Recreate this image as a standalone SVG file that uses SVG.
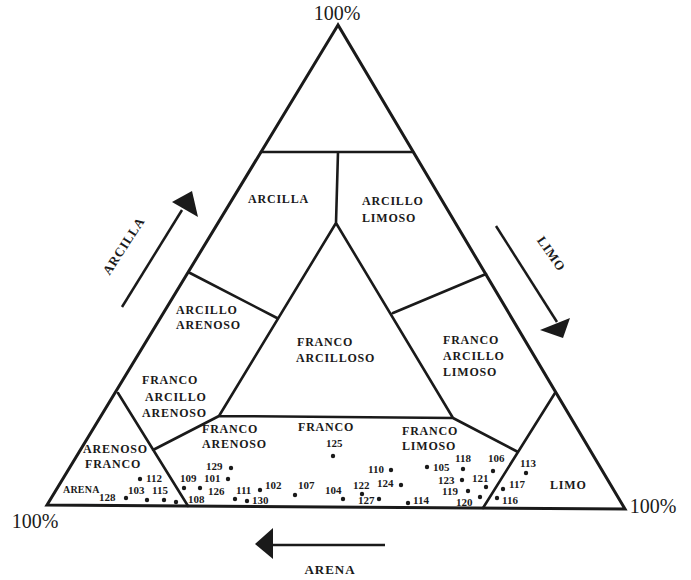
<svg xmlns="http://www.w3.org/2000/svg" width="691" height="580" viewBox="0 0 691 580">
<style>
.edge{fill:none;stroke:#1a1a1a;stroke-width:3;stroke-linejoin:miter}
.bd{fill:none;stroke:#1a1a1a;stroke-width:2.6;stroke-linecap:round}
.lbl{font-family:"Liberation Serif",serif;font-weight:bold;font-size:12px;letter-spacing:0.8px;fill:#1a1a1a}
.num{font-family:"Liberation Serif",serif;font-weight:bold;font-size:11px;fill:#1a1a1a}
.pct{font-family:"Liberation Serif",serif;font-size:20px;fill:#1a1a1a}
.dot{fill:#1a1a1a}
.arr{stroke:#1a1a1a;stroke-width:2.5;fill:none}
.head{fill:#1a1a1a}
</style>
<rect width="691" height="580" fill="#ffffff"/>
<g id="frame">
<polygon class="edge" points="338,25 47,505 625,509"/>
<path class="bd" d="M261,152 L413,152 M338,152 L336,223 M336,223 L219,416 M336,223 L453,418 M190,273 L277,318 M393,313 L486,274 M219,416 L453,418 M453,418 L518,452 M555,393 L483,508 M118,393 L188,506 M153,450 L219,416"/>
</g>
<g id="corner-labels">
<text class="pct" x="337" y="20" text-anchor="middle">100%</text>
<text class="pct" x="35" y="528" text-anchor="middle">100%</text>
<text class="pct" x="653" y="513" text-anchor="middle">100%</text>
</g>
<g id="arcilla"><text class="lbl" x="248" y="203">ARCILLA</text></g>
<g id="arcillo-limoso"><text class="lbl" x="362" y="205">ARCILLO</text><text class="lbl" x="362" y="222">LIMOSO</text></g>
<g id="arcillo-arenoso"><text class="lbl" x="176" y="314">ARCILLO</text><text class="lbl" x="176" y="329">ARENOSO</text></g>
<g id="franco-arcilloso"><text class="lbl" x="297" y="346">FRANCO</text><text class="lbl" x="296" y="362">ARCILLOSO</text></g>
<g id="franco-arcillo-limoso"><text class="lbl" x="443" y="344">FRANCO</text><text class="lbl" x="443" y="360">ARCILLO</text><text class="lbl" x="443" y="376">LIMOSO</text></g>
<g id="franco-arcillo-arenoso"><text class="lbl" x="142" y="384">FRANCO</text><text class="lbl" x="145" y="401">ARCILLO</text><text class="lbl" x="142" y="417">ARENOSO</text></g>
<g id="arenoso-franco"><text class="lbl" x="83" y="453">ARENOSO</text><text class="lbl" x="85" y="468">FRANCO</text></g>
<g id="arena-region"><text class="lbl" x="63" y="493" style="font-size:10px;letter-spacing:0.2px">ARENA</text></g>
<g id="franco-arenoso"><text class="lbl" x="202" y="433">FRANCO</text><text class="lbl" x="202" y="448">ARENOSO</text></g>
<g id="franco"><text class="lbl" x="298" y="431">FRANCO</text></g>
<g id="franco-limoso"><text class="lbl" x="402" y="435">FRANCO</text><text class="lbl" x="402" y="450">LIMOSO</text></g>
<g id="limo-region"><text class="lbl" x="550" y="489">LIMO</text></g>
<g id="connectors">
<path class="arr" d="M122,307 L182,210"/>
<polygon class="head" points="192,191 172,202 198,217"/>
<path class="arr" d="M496,226 L557,322"/>
<polygon class="head" points="540,330 570,318 563,338"/>
<path class="arr" d="M385,545 L270,545"/>
<polygon class="head" points="255,544 273,528 273,559"/>
</g>
<g id="axis-labels">
<text class="lbl" transform="translate(124,246) rotate(-57)" x="0" y="4" text-anchor="middle" style="font-size:13px">ARCILLA</text>
<text class="lbl" transform="translate(551,254) rotate(55)" x="0" y="4" text-anchor="middle" style="font-size:13px">LIMO</text>
<text class="lbl" x="330" y="574" text-anchor="middle" style="font-size:13px;letter-spacing:1px">ARENA</text>
</g>
<g id="points">
<g id="p125"><text class="num" x="326" y="447">125</text><circle class="dot" cx="333" cy="456" r="2.2"/></g>
<g id="p112"><circle class="dot" cx="140" cy="479" r="2.2"/><text class="num" x="146" y="482">112</text></g>
<g id="p103"><text class="num" x="128" y="494">103</text><circle class="dot" cx="147" cy="500" r="2.2"/></g>
<g id="p115"><text class="num" x="152" y="494">115</text><circle class="dot" cx="164" cy="500" r="2.2"/></g>
<g id="p128"><text class="num" x="99" y="501">128</text><circle class="dot" cx="126" cy="498" r="2.2"/></g>
<g id="p0"><circle class="dot" cx="176" cy="502" r="2.2"/></g>
<g id="p109"><text class="num" x="180" y="482">109</text><circle class="dot" cx="184" cy="488" r="2.2"/></g>
<g id="p101"><text class="num" x="204" y="482">101</text><circle class="dot" cx="228" cy="479" r="2.2"/></g>
<g id="p108"><text class="num" x="188" y="503">108</text><circle class="dot" cx="200" cy="488" r="2.2"/></g>
<g id="p126"><text class="num" x="208" y="495">126</text></g>
<g id="p129"><text class="num" x="206" y="470">129</text><circle class="dot" cx="231" cy="468" r="2.2"/></g>
<g id="p111"><text class="num" x="236" y="494">111</text><circle class="dot" cx="260" cy="490" r="2.2"/><circle class="dot" cx="235" cy="499" r="2.2"/></g>
<g id="p102"><text class="num" x="265" y="489">102</text></g>
<g id="p130"><circle class="dot" cx="247" cy="501" r="2.2"/><text class="num" x="252" y="504">130</text></g>
<g id="p107"><text class="num" x="298" y="489">107</text><circle class="dot" cx="295" cy="495" r="2.2"/></g>
<g id="p104"><text class="num" x="325" y="494">104</text><circle class="dot" cx="343" cy="499" r="2.2"/></g>
<g id="p122"><text class="num" x="353" y="489">122</text><circle class="dot" cx="362" cy="494" r="2.2"/></g>
<g id="p124"><text class="num" x="377" y="487">124</text><circle class="dot" cx="401" cy="485" r="2.2"/></g>
<g id="p127"><text class="num" x="358" y="504">127</text><circle class="dot" cx="379" cy="499" r="2.2"/></g>
<g id="p110"><text class="num" x="368" y="473">110</text><circle class="dot" cx="391" cy="470" r="2.2"/></g>
<g id="p114"><circle class="dot" cx="408" cy="503" r="2.2"/><text class="num" x="413" y="504">114</text></g>
<g id="p105"><circle class="dot" cx="427" cy="467" r="2.2"/><text class="num" x="433" y="471">105</text></g>
<g id="p118"><text class="num" x="455" y="462">118</text><circle class="dot" cx="463" cy="469" r="2.2"/></g>
<g id="p106"><text class="num" x="488" y="462">106</text><circle class="dot" cx="493" cy="471" r="2.2"/></g>
<g id="p123"><text class="num" x="438" y="484">123</text><circle class="dot" cx="462" cy="480" r="2.2"/></g>
<g id="p121"><text class="num" x="472" y="482">121</text><circle class="dot" cx="486" cy="487" r="2.2"/></g>
<g id="p119"><text class="num" x="442" y="495">119</text><circle class="dot" cx="468" cy="491" r="2.2"/></g>
<g id="p120"><text class="num" x="456" y="506">120</text><circle class="dot" cx="480" cy="497" r="2.2"/></g>
<g id="p113"><text class="num" x="520" y="467">113</text><circle class="dot" cx="526" cy="473" r="2.2"/></g>
<g id="p117"><circle class="dot" cx="503" cy="489" r="2.2"/><text class="num" x="509" y="488">117</text></g>
<g id="p116"><circle class="dot" cx="497" cy="498" r="2.2"/><text class="num" x="502" y="504">116</text></g>
</g>
</svg>
